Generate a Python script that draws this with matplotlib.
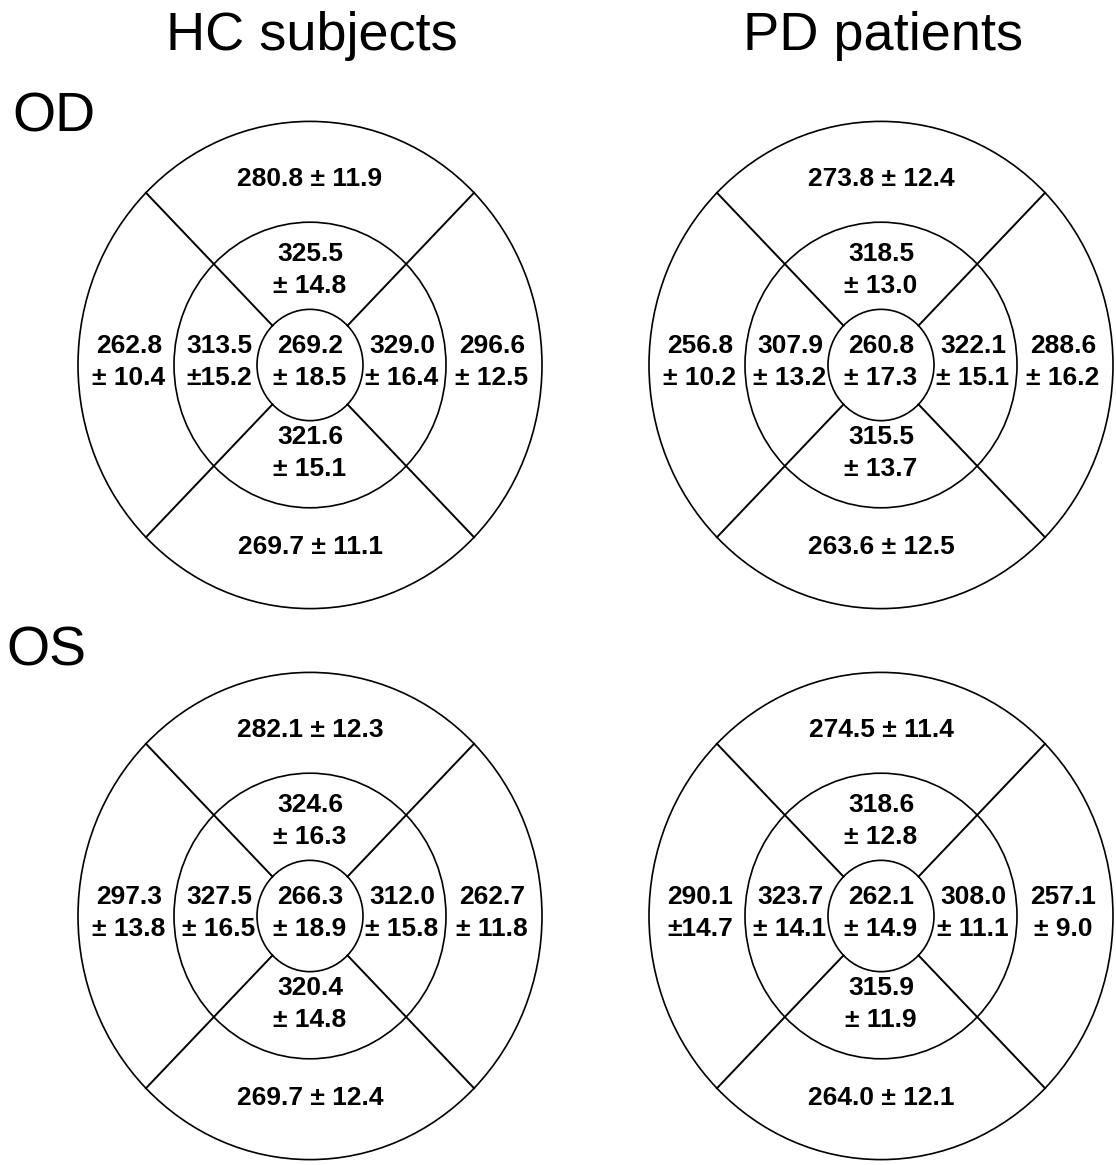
import numpy as np
import matplotlib.pyplot as plt
from matplotlib.patches import Ellipse

plt.rcParams["font.family"] = ["Liberation Sans", "DejaVu Sans"]

# sector order: center, inner top, inner bottom, inner left, inner right,
#               outer top, outer bottom, outer left, outer right
hc_od_mean = [269.2, 325.5, 321.6, 313.5, 329.0, 280.8, 269.7, 262.8, 296.6]
hc_od_sd = [18.5, 14.8, 15.1, 15.2, 16.4, 11.9, 11.1, 10.4, 12.5]
pd_od_mean = [260.8, 318.5, 315.5, 307.9, 322.1, 273.8, 263.6, 256.8, 288.6]
pd_od_sd = [17.3, 13.0, 13.7, 13.2, 15.1, 12.4, 12.5, 10.2, 16.2]
hc_os_mean = [266.3, 324.6, 320.4, 327.5, 312.0, 282.1, 269.7, 297.3, 262.7]
hc_os_sd = [18.9, 16.3, 14.8, 16.5, 15.8, 12.3, 12.4, 13.8, 11.8]
pd_os_mean = [262.1, 318.6, 315.9, 323.7, 308.0, 274.5, 264.0, 290.1, 257.1]
pd_os_sd = [14.9, 12.8, 11.9, 14.1, 11.1, 11.4, 12.1, 14.7, 9.0]

col_titles = ["HC subjects", "PD patients"]
row_titles = ["OD", "OS"]

W, H = 1116, 1165
fig = plt.figure(figsize=(W / 100, H / 100), dpi=100)
ax = fig.add_axes([0, 0, 1, 1])
ax.set_xlim(0, W)
ax.set_ylim(H, 0)
ax.axis("off")

col_x = [310, 881]
row_y = [365, 916]
rx = [53, 136, 232]   # horizontal radii: center, middle, outer
sy = 1.05             # the grid is slightly taller than wide

# label offsets per sector (dx, dy)
offs = [(0, -3), (0, -95), (0, 88), (-91, -3), (92, -3),
        (0, -186), (0, 182), (-181, -3), (182, -3)]

panels = [
    (0, 0, hc_od_mean, hc_od_sd),
    (0, 1, pd_od_mean, pd_od_sd),
    (1, 0, hc_os_mean, hc_os_sd),
    (1, 1, pd_os_mean, pd_os_sd),
]
# cells printed without the space after ±
tight = [(0, 3), (3, 7)]

for p, (r, c, means, sds) in enumerate(panels):
    cx, cy = col_x[c], row_y[r]
    for rr in rx:
        ax.add_patch(Ellipse((cx, cy), 2 * rr, 2 * rr * sy, fill=False,
                             ec="black", lw=1.2))
    for ang in [45, 135, 225, 315]:
        t = np.deg2rad(ang)
        x0, y0 = cx + rx[0] * np.cos(t), cy + rx[0] * sy * np.sin(t)
        x1, y1 = cx + rx[2] * np.cos(t), cy + rx[2] * sy * np.sin(t)
        ax.plot([x0, x1], [y0, y1], color="black", lw=1.4)
    for i, (m, s) in enumerate(zip(means, sds)):
        dx, dy = offs[i]
        pm = "±" if (p, i) in tight else "± "
        sep = " " if i in (5, 6) else "\n"
        label = f"{m:.1f}{sep}{pm}{s:.1f}"
        ax.text(cx + dx, cy + dy, label, ha="center", va="center",
                multialignment="center", fontsize=19, fontweight="bold",
                linespacing=1.4)

for c, t in enumerate(col_titles):
    ax.text(col_x[c] + 2, 50, t, ha="center", va="baseline", fontsize=39)

ax.text(12, 131, row_titles[0], ha="left", va="baseline", fontsize=40)
ax.text(6, 665, row_titles[1], ha="left", va="baseline", fontsize=40)

fig.savefig("out.png", dpi=100, facecolor="white")
